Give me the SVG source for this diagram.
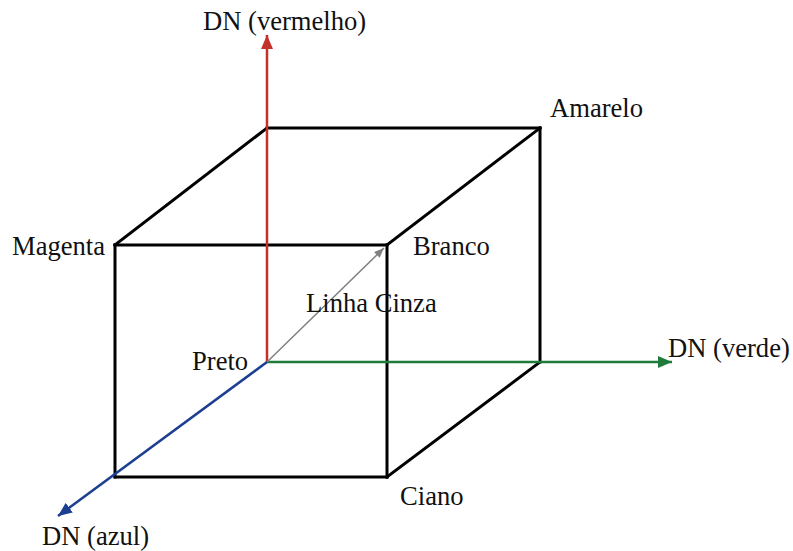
<svg xmlns="http://www.w3.org/2000/svg" width="793" height="551" viewBox="0 0 793 551">
<defs>
<style>
text{font-family:"Liberation Serif","Times New Roman",serif;font-size:26.6px;fill:#111}
.edge{stroke:#000;stroke-width:3;fill:none;stroke-linecap:square}
.ax{stroke-width:2.5;fill:none}
</style>
<marker id="mr" markerUnits="userSpaceOnUse" markerWidth="14" markerHeight="12" refX="14" refY="6" orient="auto"><path d="M0,0 L14,6 L0,12 Z" fill="#c4302b"/></marker>
<marker id="mg" markerUnits="userSpaceOnUse" markerWidth="14" markerHeight="12" refX="14" refY="6" orient="auto"><path d="M0,0 L14,6 L0,12 Z" fill="#1e7b3c"/></marker>
<marker id="mb" markerUnits="userSpaceOnUse" markerWidth="14" markerHeight="12" refX="14" refY="6" orient="auto"><path d="M0,0 L14,6 L0,12 Z" fill="#1d3f91"/></marker>
<marker id="mgr" markerUnits="userSpaceOnUse" markerWidth="10" markerHeight="8" refX="10" refY="4" orient="auto"><path d="M0,0 L10,4 L0,8 Z" fill="#808080"/></marker>
</defs>
<g id="connectors">
<line class="edge" x1="115" y1="245" x2="387" y2="245"/>
<line class="edge" x1="115" y1="245" x2="115" y2="477"/>
<line class="edge" x1="115" y1="477" x2="387" y2="477"/>
<line class="edge" x1="387" y1="245" x2="387" y2="477"/>
<line class="edge" x1="267" y1="128" x2="540" y2="128"/>
<line class="edge" x1="540" y1="128" x2="540" y2="362"/>
<line class="edge" x1="115" y1="245" x2="267" y2="128"/>
<line class="edge" x1="387" y1="245" x2="540" y2="128"/>
<line class="edge" x1="387" y1="477" x2="540" y2="362"/>
<line class="ax" stroke="#c4302b" x1="267" y1="362" x2="267" y2="35" marker-end="url(#mr)"/>
<line class="ax" stroke="#1e7b3c" x1="267" y1="362" x2="672" y2="362" marker-end="url(#mg)"/>
<line class="ax" stroke="#1d3f91" x1="267" y1="362" x2="58" y2="516" marker-end="url(#mb)"/>
<line stroke="#808080" stroke-width="1.5" x1="267" y1="362" x2="384" y2="248" marker-end="url(#mgr)"/>
</g>
<g id="n-vermelho"><text x="203" y="30">DN (vermelho)</text></g>
<g id="n-amarelo"><text x="550" y="117">Amarelo</text></g>
<g id="n-magenta"><text x="12" y="255">Magenta</text></g>
<g id="n-branco"><text x="413" y="255">Branco</text></g>
<g id="n-cinza"><text x="306" y="312">Linha Cinza</text></g>
<g id="n-preto"><text x="192" y="370">Preto</text></g>
<g id="n-verde"><text x="668" y="357">DN (verde)</text></g>
<g id="n-ciano"><text x="400" y="505">Ciano</text></g>
<g id="n-azul"><text x="42" y="545">DN (azul)</text></g>
</svg>
